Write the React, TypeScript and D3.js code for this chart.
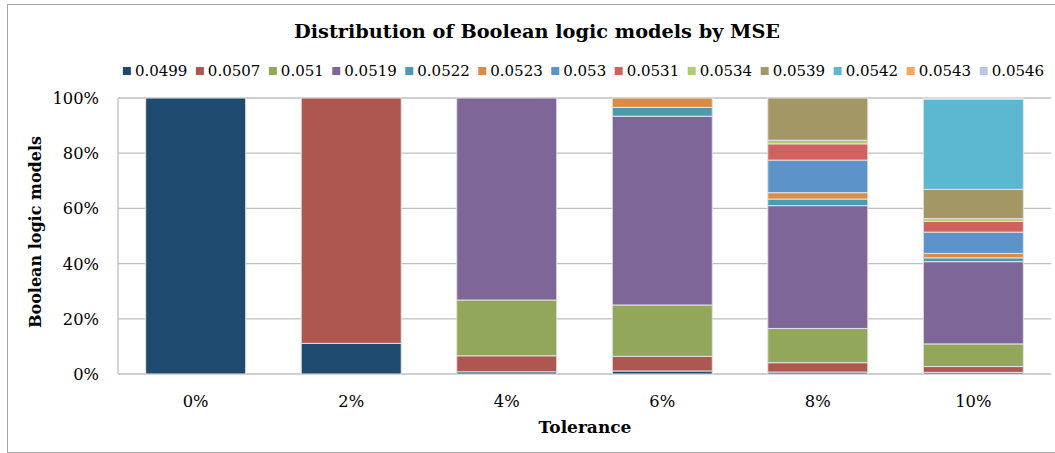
import React from "react";
import * as d3 from "d3";

const categories = ["0%", "2%", "4%", "6%", "8%", "10%"];
const mseLevels = ["0.0499", "0.0507", "0.051", "0.0519", "0.0522", "0.0523", "0.053", "0.0531", "0.0534", "0.0539", "0.0542", "0.0543", "0.0546"];
const colors = ["#1F4A70", "#AE5650", "#93A75A", "#7E6698", "#4A9CB0", "#DA8C47", "#5D93C9", "#CF625E", "#B3CB72", "#A39766", "#5BB8D0", "#F8A65C", "#B9C8E2"];

// percent of models per tolerance, one array per MSE level
const s0499 = [100, 11.1, 0.8, 1.1, 0.7, 0.6];
const s0507 = [0, 88.9, 5.8, 5.3, 3.4, 2.1];
const s0510 = [0, 0, 20.2, 18.6, 12.4, 8.2];
const s0519 = [0, 0, 73.2, 68.4, 44.5, 29.8];
const s0522 = [0, 0, 0, 3.2, 2.4, 1.4];
const s0523 = [0, 0, 0, 3.4, 2.3, 1.6];
const s0530 = [0, 0, 0, 0, 11.8, 7.7];
const s0531 = [0, 0, 0, 0, 5.9, 3.9];
const s0534 = [0, 0, 0, 0, 1.3, 1.0];
const s0539 = [0, 0, 0, 0, 15.3, 10.6];
const s0542 = [0, 0, 0, 0, 0, 32.7];
const s0543 = [0, 0, 0, 0, 0, 0.2];
const s0546 = [0, 0, 0, 0, 0, 0.2];
const seriesValues = [s0499, s0507, s0510, s0519, s0522, s0523, s0530, s0531, s0534, s0539, s0542, s0543, s0546];

const yTicks = [0, 0.2, 0.4, 0.6, 0.8, 1];

const W = 1055, H = 453;
const FONT = "'DejaVu Serif', serif";

function measure(text: string, font: string): number {
  const c = document.createElement("canvas").getContext("2d");
  if (!c) return text.length * 8;
  c.font = font;
  return c.measureText(text).width;
}

export default function App() {
  const rows = categories.map((cat, i) => {
    const r: any = { cat };
    mseLevels.forEach((m, j) => { r[m] = seriesValues[j][i]; });
    return r;
  });
  const stacked = d3.stack<any>().keys(mseLevels).offset(d3.stackOffsetExpand)(rows);

  const x = d3.scaleBand().domain(categories).range([118, 1051]).paddingInner(0.357).paddingOuter(0.178);
  const y = d3.scaleLinear().domain([0, 1]).range([374, 98]);
  const fmt = d3.format(".0%");

  // legend layout
  const legFont = `15px ${FONT}`;
  const sq = 8, g1 = 4, g2 = 8.5;
  const widths = mseLevels.map((m) => measure(m, legFont));
  const total = widths.reduce((a, b) => a + b, 0) + mseLevels.length * (sq + g1) + (mseLevels.length - 1) * g2;
  let lx = 583.5 - total / 2;
  const legendItems = mseLevels.map((m, i) => {
    const item = { m, x: lx, c: colors[i] };
    lx += sq + g1 + widths[i] + g2;
    return item;
  });

  return (
    <svg width={W} height={H} style={{ position: "absolute", left: 0, top: 0, background: "#fff" }} fontFamily={FONT}>
      <rect x={7.5} y={4.5} width={1060} height={448} fill="#fff" stroke="#A6A6A6" strokeWidth={1} />
      <text x={537} y={38} textAnchor="middle" fontSize={19.3} fontWeight="bold" fill="#000">Distribution of Boolean logic models by MSE</text>
      {legendItems.map((it) => (
        <g key={it.m}>
          <rect x={it.x} y={67} width={sq} height={sq} fill={it.c} />
          <text x={it.x + sq + g1} y={76} fontSize={15} fill="#000">{it.m}</text>
        </g>
      ))}
      {yTicks.map((t) => (
        <g key={t}>
          <line x1={118} x2={1051} y1={y(t)} y2={y(t)} stroke="#BFBFBF" strokeWidth={1.3} />
          <text x={99} y={y(t) + 6} textAnchor="end" fontSize={16.3} fill="#000">{fmt(t)}</text>
        </g>
      ))}
      <line x1={118} x2={118} y1={y(1)} y2={y(0)} stroke="#BFBFBF" strokeWidth={1.3} />
      {stacked.map((s, si) => (
        <g key={s.key} fill={colors[si]}>
          {s.map((d, i) => {
            const h = y(d[0]) - y(d[1]);
            if (h <= 0.01) return null;
            return (
              <rect key={i} x={x(categories[i])!} y={y(d[1])} width={x.bandwidth()} height={h}
                stroke="#E2E2E2" strokeWidth={1} />
            );
          })}
        </g>
      ))}
      {categories.map((c) => (
        <text key={c} x={x(c)! + x.bandwidth() / 2} y={407} textAnchor="middle" fontSize={16.3} fill="#000">{c}</text>
      ))}
      <text x={585} y={433} textAnchor="middle" fontSize={17} fontWeight="bold" fill="#000">Tolerance</text>
      <text transform={`translate(41,232) rotate(-90)`} textAnchor="middle" fontSize={16} fontWeight="bold" fill="#000">Boolean logic models</text>
    </svg>
  );
}
